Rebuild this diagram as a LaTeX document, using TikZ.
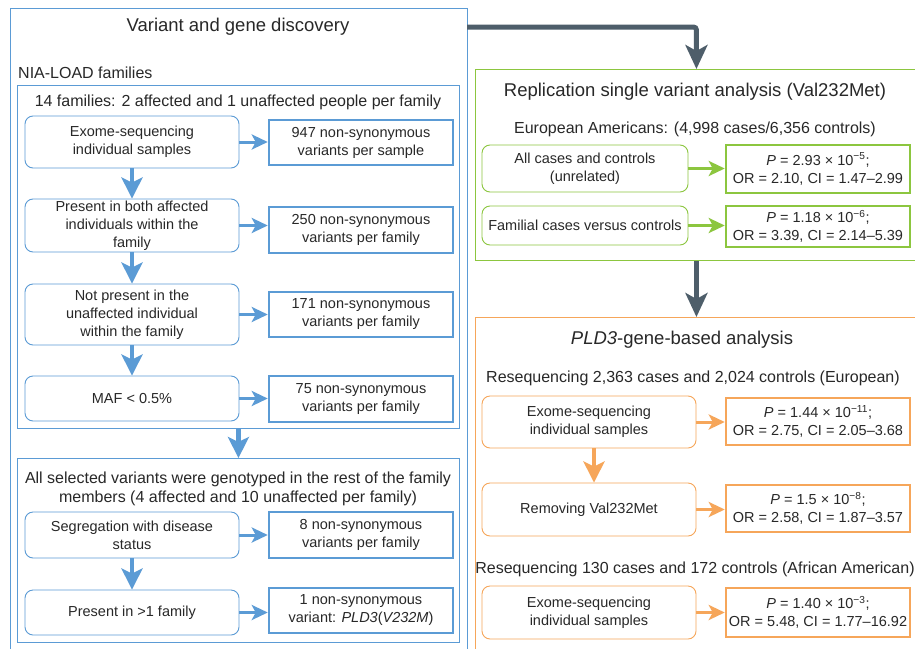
\documentclass[tikz,border=0pt]{standalone}
\usepackage{fontspec}
\setmainfont{Liberation Sans}
\usetikzlibrary{arrows.meta}
\definecolor{bl}{RGB}{91,155,213}
\definecolor{gr}{RGB}{140,198,63}
\definecolor{orc}{RGB}{246,166,90}
\definecolor{dk}{RGB}{78,94,106}
\definecolor{tc}{RGB}{40,40,40}
\tikzset{
  txt/.style={text=tc, font=\fontsize{14.5}{18}\selectfont, inner sep=0pt, align=center},
  sub/.style={text=tc, font=\fontsize{16}{19}\selectfont, inner sep=0pt, align=center},
  ttl/.style={text=tc, font=\fontsize{18.5}{22}\selectfont, inner sep=0pt},
  frame/.style={draw=#1, line width=0.9pt, inner sep=0pt, anchor=north west},
  lbox/.style={txt, draw=#1, line width=0.9pt, rounded corners=8pt},
  rbox/.style={txt, draw=#1, line width=2.5pt, minimum width=184pt},
  harr/.style={draw=#1, line width=3pt, -{Stealth[length=16pt,width=15pt,inset=4pt]}},
  varr/.style={draw=#1, line width=4.5pt, -{Stealth[length=21pt,width=21pt,inset=5pt]}},
  darr/.style={draw=dk, line width=5pt, rounded corners=3pt, -{Stealth[length=24pt,width=22pt,inset=6pt]}}
}
\begin{document}
\begin{tikzpicture}[x=1pt,y=-1pt]
\clip (0,0) rectangle (915,648);
\fill[white] (0,0) rectangle (915,648);

% ---------- left: variant and gene discovery ----------
\node[frame=bl, minimum width=457pt, minimum height=680pt] (outer) at (10,8) {};
\node[ttl] (t1) at (238,27) {Variant and gene discovery};
\node[sub, anchor=west] (nia) at (18,73) {NIA-LOAD families};
\node[frame=bl, minimum width=442pt, minimum height=343pt] (fam) at (17,85) {};
\node[sub] (famt) at (238,102) {14 families: 2 affected and 1 unaffected people per family};

\node[lbox=bl, minimum width=214pt, minimum height=52pt] (L1) at (132,142) {Exome-sequencing\\individual samples};
\node[lbox=bl, minimum width=214pt, minimum height=53pt] (L2) at (132,225.5) {Present in both affected\\individuals within the\\family};
\node[lbox=bl, minimum width=214pt, minimum height=61pt] (L3) at (132,314.5) {Not present in the\\unaffected individual\\within the family};
\node[lbox=bl, minimum width=214pt, minimum height=45pt] (L4) at (132,398.5) {MAF < 0.5\%};

\node[rbox=bl, minimum height=45pt] (R1) at (361,142.5) {947 non-synonymous\\variants per sample};
\node[rbox=bl, minimum height=46pt] (R2) at (361,230) {250 non-synonymous\\variants per family};
\node[rbox=bl, minimum height=45pt] (R3) at (361,314.5) {171 non-synonymous\\variants per family};
\node[rbox=bl, minimum height=46pt] (R4) at (361,399) {75 non-synonymous\\variants per family};

\draw[harr=bl] (L1.east) -- (L1.east -| R1.west);
\draw[harr=bl] (L2.east) -- (L2.east -| R2.west);
\draw[harr=bl] (L3.east) -- (L3.east -| R3.west);
\draw[harr=bl] (L4.east) -- (L4.east -| R4.west);
\draw[varr=bl] (L1.south) -- (L2.north);
\draw[varr=bl] (L2.south) -- (L3.north);
\draw[varr=bl] (L3.south) -- (L4.north);

\node[frame=bl, minimum width=442pt, minimum height=184pt] (sel) at (17,458) {};
\draw[varr=bl] (fam.south) -- (sel.north);
\node[sub] (selt) at (238,488.5) {All selected variants were genotyped in the rest of the family\\members (4 affected and 10 unaffected per family)};

\node[lbox=bl, minimum width=214pt, minimum height=46pt] (L5) at (132,535) {Segregation with disease\\status};
\node[lbox=bl, minimum width=214pt, minimum height=45pt] (L6) at (132,612.5) {Present in >1 family};
\node[rbox=bl, minimum height=46pt] (R5) at (361,535) {8 non-synonymous\\variants per family};
\node[rbox=bl, minimum height=45pt] (R6) at (361,610.5) {1 non-synonymous\\variant: \textit{PLD3}(\textit{V232M})};
\draw[harr=bl] (L5.east) -- (L5.east -| R5.west);
\draw[harr=bl] (L6.east) -- (L6.east -| R6.west);
\draw[varr=bl] (L5.south) -- (L6.north);

% ---------- right top: replication ----------
\node[frame=gr, minimum width=442pt, minimum height=191pt] (green) at (475,69) {};
\coordinate (c1) at (467,27);
\draw[darr] (c1) -| (green.north);
\node[ttl] (gt) at (695,92) {Replication single variant analysis (Val232Met)};
\node[sub] (ge) at (695,129) {European Americans: (4,998 cases/6,356 controls)};
\node[lbox=gr, minimum width=206pt, minimum height=47pt] (GL1) at (585,168.5) {All cases and controls\\(unrelated)};
\node[lbox=gr, minimum width=206pt, minimum height=39pt] (GL2) at (585,225.5) {Familial cases versus controls};
\node[rbox=gr, minimum height=48pt] (GR1) at (818,169) {\textit{P} = 2.93 × 10\textsuperscript{−5};\\OR = 2.10, CI = 1.47–2.99};
\node[rbox=gr, minimum height=41pt] (GR2) at (818,226.5) {\textit{P} = 1.18 × 10\textsuperscript{−6};\\OR = 3.39, CI = 2.14–5.39};
\draw[harr=gr] (GL1.east) -- (GL1.east -| GR1.west);
\draw[harr=gr] (GL2.east) -- (GL2.east -| GR2.west);

% ---------- right bottom: PLD3 ----------
\node[frame=orc, minimum width=442pt, minimum height=400pt] (orng) at (475,317) {};
\draw[darr] (green.south) -- (orng.north);
\node[ttl] (ot) at (682,340) {\textit{PLD3}-gene-based analysis};
\node[sub] (oe) at (693,378) {Resequencing 2,363 cases and 2,024 controls (European)};
\node[lbox=orc, minimum width=214pt, minimum height=52pt] (OL1) at (589,422) {Exome-sequencing\\individual samples};
\node[lbox=orc, minimum width=214pt, minimum height=53pt] (OL2) at (589,509.5) {Removing Val232Met};
\node[sub] (oa) at (695,569) {Resequencing 130 cases and 172 controls (African American)};
\node[lbox=orc, minimum width=214pt, minimum height=53pt] (OL3) at (589,612.5) {Exome-sequencing\\individual samples};
\node[rbox=orc, minimum height=47pt] (OR1) at (818,421.5) {\textit{P} = 1.44 × 10\textsuperscript{−11};\\OR = 2.75, CI = 2.05–3.68};
\node[rbox=orc, minimum height=47pt] (OR2) at (818,508.5) {\textit{P} = 1.5 × 10\textsuperscript{−8};\\OR = 2.58, CI = 1.87–3.57};
\node[rbox=orc, minimum height=49pt] (OR3) at (818,612.5) {\textit{P} = 1.40 × 10\textsuperscript{−3};\\OR = 5.48, CI = 1.77–16.92};
\draw[harr=orc] (OL1.east) -- (OL1.east -| OR1.west);
\draw[harr=orc] (OL2.east) -- (OL2.east -| OR2.west);
\draw[harr=orc] (OL3.east) -- (OL3.east -| OR3.west);
\draw[varr=orc] ([xshift=5pt]OL1.south) -- ([xshift=5pt]OL2.north);
\end{tikzpicture}
\end{document}
